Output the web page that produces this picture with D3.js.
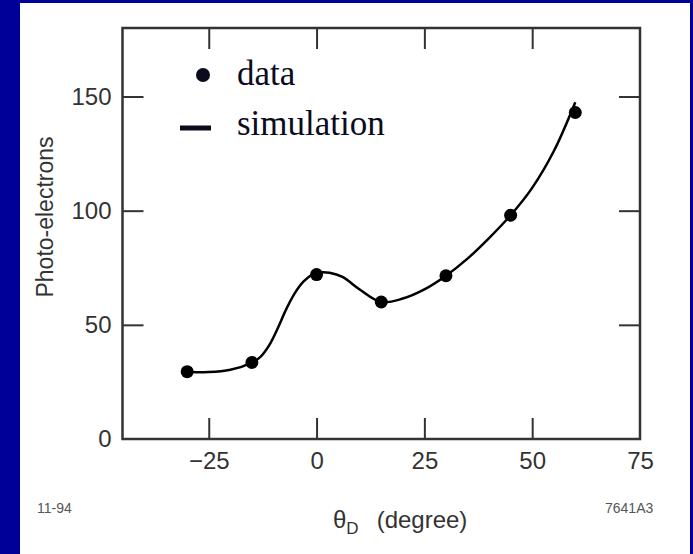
<!DOCTYPE html>
<html><head><meta charset="utf-8">
<script src="https://cdn.jsdelivr.net/npm/d3@7"></script>
<style>html,body{margin:0;padding:0;background:#000099;}svg{display:block;}</style>
</head><body>
<svg id="c" width="693" height="554"></svg>
<script>
const dataX = [-30, -15, 0, 15, 30, 45, 60];
const dataY = [29.5, 33.5, 72, 60, 71.5, 98, 143];
const simX = [-30, -25, -20, -15, -13, -11, -9, -7, -5, -3, -1, 1, 3, 6, 10, 15, 20, 25, 30, 35, 40, 45, 50, 55, 60];
const simY = [29.5, 29.3, 30.3, 33.5, 36, 41, 48.5, 57, 64, 69, 72, 73, 72.8, 71, 65.5, 60, 61.5, 65.5, 71.5, 79, 88, 98, 110, 126, 147.5];
const xTickValues = [-25, 0, 25, 50];
const xLabelValues = [-25, 0, 25, 50, 75];
const yTickValues = [50, 100, 150];
const yLabelValues = [0, 50, 100, 150];
const legendLabels = ["data", "simulation"];

const svg = d3.select("#c");
svg.append("rect").attr("x", 0).attr("y", 0).attr("width", 693).attr("height", 554).attr("fill", "#000099");
svg.append("rect").attr("x", 20).attr("y", 3).attr("width", 670).attr("height", 551).attr("fill", "#ffffff");

const L = 122.5, R = 640, T = 28, B = 439;
const x = d3.scaleLinear().domain([-45, 75]).range([L, R]);
const y = d3.scaleLinear().domain([0, 180]).range([B, T]);

const axisColor = "#333";
const tickLen = 21;
function styleAxis(g) {
  g.select(".domain").remove();
  g.selectAll(".tick line").attr("stroke", axisColor).attr("stroke-width", 2);
  g.selectAll("text").attr("fill", "#333").style("font-family", "'Liberation Sans', Arial, sans-serif").style("font-size", "24px");
}
// ticks (inward)
svg.append("g").attr("transform", `translate(0,${B})`).call(d3.axisBottom(x).tickValues(xTickValues).tickSize(-tickLen).tickFormat("")).call(styleAxis);
svg.append("g").attr("transform", `translate(0,${T})`).call(d3.axisTop(x).tickValues(xTickValues).tickSize(-tickLen).tickFormat("")).call(styleAxis);
svg.append("g").attr("transform", `translate(${L},0)`).call(d3.axisLeft(y).tickValues(yTickValues).tickSize(-tickLen).tickFormat("")).call(styleAxis);
svg.append("g").attr("transform", `translate(${R},0)`).call(d3.axisRight(y).tickValues(yTickValues).tickSize(-tickLen).tickFormat("")).call(styleAxis);
// labels
svg.append("g").attr("transform", `translate(0,${B})`).call(d3.axisBottom(x).tickValues(xLabelValues).tickSize(0).tickPadding(13).tickFormat(d => d < 0 ? "\u2212" + Math.abs(d) : d)).call(styleAxis);
svg.append("g").attr("transform", `translate(${L},0)`).call(d3.axisLeft(y).tickValues(yLabelValues).tickSize(0).tickPadding(11)).call(styleAxis);

// frame
svg.append("rect").attr("x", L).attr("y", T).attr("width", R - L).attr("height", B - T)
  .attr("fill", "none").attr("stroke", axisColor).attr("stroke-width", 2.5);

// simulation curve
const sim = simX.map((v, i) => [v, simY[i]]);
svg.append("path").datum(sim)
  .attr("d", d3.line().x(d => x(d[0])).y(d => y(d[1])).curve(d3.curveCatmullRom.alpha(0.5)))
  .attr("fill", "none").attr("stroke", "#000").attr("stroke-width", 2.5);

// data points
svg.append("g").selectAll("circle").data(dataX.map((v, i) => [v, dataY[i]])).join("circle")
  .attr("cx", d => x(d[0])).attr("cy", d => y(d[1])).attr("r", 6.5).attr("fill", "#000");

// legend
const lg = svg.append("g");
const legColor = "#0b0b1e";
lg.append("circle").attr("cx", 203).attr("cy", 75).attr("r", 7).attr("fill", legColor);
lg.append("line").attr("x1", 180).attr("x2", 211).attr("y1", 128).attr("y2", 128).attr("stroke", legColor).attr("stroke-width", 5);
lg.selectAll("text").data(legendLabels).join("text")
  .attr("x", 237).attr("y", (d, i) => i === 0 ? 85 : 135)
  .attr("fill", legColor)
  .style("font-family", "'Liberation Serif', 'Times New Roman', serif").style("font-size", "35px")
  .text(d => d);

// axis titles
svg.append("text").attr("transform", "translate(53,217) rotate(-90)").attr("text-anchor", "middle")
  .attr("fill", "#333").style("font-family", "'Liberation Sans', Arial, sans-serif").style("font-size", "23px")
  .text("Photo-electrons");
const xt = svg.append("text").attr("x", 333).attr("y", 528).attr("fill", "#333")
  .style("font-family", "'Liberation Sans', Arial, sans-serif").style("font-size", "24px");
xt.append("tspan").text("\u03b8");
xt.append("tspan").attr("dy", 6).style("font-size", "17px").text("D");
xt.append("tspan").attr("dy", -6).attr("dx", 18).text("(degree)");

svg.append("text").attr("x", 37).attr("y", 513).attr("fill", "#555")
  .style("font-family", "'Liberation Sans', Arial, sans-serif").style("font-size", "14px").text("11-94");
svg.append("text").attr("x", 605).attr("y", 513).attr("fill", "#555")
  .style("font-family", "'Liberation Sans', Arial, sans-serif").style("font-size", "14px").text("7641A3");
</script>
</body></html>
